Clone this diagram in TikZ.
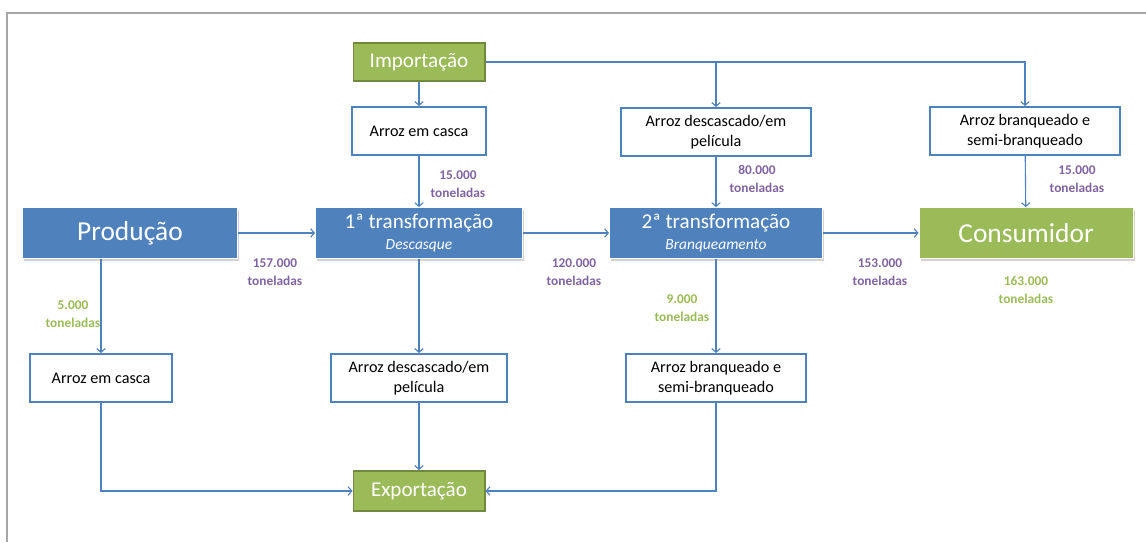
\documentclass[tikz,border=0pt]{standalone}
\usepackage{fontspec}
\setmainfont{Carlito}
\usetikzlibrary{arrows.meta,positioning,shadows}
\definecolor{azul}{HTML}{4F81BD}
\definecolor{verde}{HTML}{9BBB59}
\definecolor{verdeesc}{HTML}{71893F}
\definecolor{roxo}{HTML}{8064A2}
\definecolor{moldura}{HTML}{A6A6A6}

\begin{document}
\begin{tikzpicture}[
  x=0.025cm, y=-0.025cm,
  etapa/.style={rectangle, fill=azul, draw=white, line width=0.6pt,
               text=white, align=center, inner sep=1pt,
               minimum width=5.3cm, minimum height=1.275cm,
               font=\fontsize{11}{15}\selectfont,
               drop shadow={shadow xshift=1.2pt, shadow yshift=-1.5pt, fill=black!35}},
  merc/.style={rectangle, fill=verde, draw=verdeesc, line width=1.4pt,
               text=white, minimum width=3.275cm, minimum height=0.95cm,
               font=\fontsize{15}{18}\selectfont},
  prod/.style={rectangle, fill=white, draw=azul, line width=1.4pt,
               align=center, inner sep=2pt, minimum height=1.2cm,
               font=\fontsize{11.5}{14}\selectfont},
  qtd/.style={align=center, font=\bfseries\fontsize{9.5}{12.5}\selectfont},
  seta/.style={draw=azul, line width=0.8pt, -{Straight Barb[length=2.6pt,width=6pt]}}
]
\useasboundingbox (0,0) rectangle (1146,542);
\draw[moldura, line width=1.5pt] (7,542) -- (7,13) -- (1146,13);

% entradas
\node[merc] (imp) at (419,62) {Importação};
\node[prod, minimum width=3.35cm] (aec1) at (419,131) {Arroz em casca};
\node[prod, minimum width=4.75cm] (ades1) at (716,132) {Arroz descascado/em\\película};
\node[prod, minimum width=4.75cm] (abr1) at (1025,131) {Arroz branqueado e\\semi-branqueado};

% cadeia
\node[etapa, minimum width=5.375cm, font=\fontsize{19.5}{22}\selectfont] (prodn) at (130,233) {Produção};
\node[etapa, minimum width=5.175cm] (t1) at (419,233)
  {{\fontsize{15}{18}\selectfont 1ª transformação}\\{\itshape Descasque}};
\node[etapa, minimum width=5.325cm] (t2) at (716,233)
  {{\fontsize{15}{18}\selectfont 2ª transformação}\\{\itshape Branqueamento}};
\node[etapa, fill=verde, minimum width=5.35cm, font=\fontsize{19.5}{22}\selectfont] (cons) at (1026,233) {Consumidor};

% saidas
\node[prod, minimum width=3.525cm] (aec2) at (101,378) {Arroz em casca};
\node[prod, minimum width=4.375cm] (ades2) at (419,378) {Arroz descascado/em\\película};
\node[prod, minimum width=4.5cm] (abr2) at (716,378) {Arroz branqueado e\\semi-branqueado};
\node[merc, minimum height=1.0cm] (exp) at (419,491) {Exportação};

% quantidades
\node[qtd, text=roxo] (q1) at (458,184) {15.000\\toneladas};
\node[qtd, text=roxo] (q2) at (757,179) {80.000\\toneladas};
\node[qtd, text=roxo] (q3) at (1077,179) {15.000\\toneladas};
\node[qtd, text=roxo] (q4) at (275,272) {157.000\\toneladas};
\node[qtd, text=roxo] (q5) at (574,272) {120.000\\toneladas};
\node[qtd, text=roxo] (q6) at (880,272) {153.000\\toneladas};
\node[qtd, text=verde] (q7) at (1026,290) {163.000\\toneladas};
\node[qtd, text=verde] (q8) at (682,308) {9.000\\toneladas};
\node[qtd, text=verde] (q9) at (73,314) {5.000\\toneladas};

\draw[seta] (imp) -- (aec1);
\draw[seta] (imp.east) -| (abr1);
\draw[seta] (imp.east -| ades1.north) -- (ades1);
\draw[seta] (aec1) -- (t1);
\draw[seta] (ades1) -- (t2);
\draw[seta] (abr1) -- (cons);
\draw[seta] (prodn) -- (t1);
\draw[seta] (t1) -- (t2);
\draw[seta] (t2) -- (cons);
\draw[seta] (aec2.north |- prodn.south) -- (aec2);
\draw[seta] (t1) -- (ades2);
\draw[seta] (t2) -- (abr2);
\draw[seta] (aec2) |- (exp);
\draw[seta] (ades2) -- (exp);
\draw[seta] (abr2) |- (exp);
\end{tikzpicture}
\end{document}
